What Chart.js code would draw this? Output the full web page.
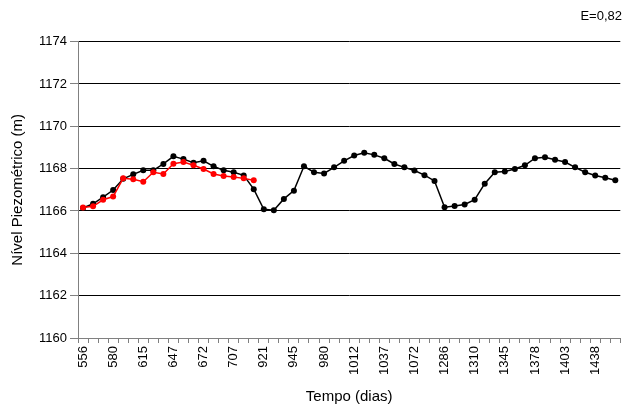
<!DOCTYPE html>
<html>
<head>
<meta charset="utf-8">
<script src="https://cdn.jsdelivr.net/npm/chart.js@4/dist/chart.umd.min.js"></script>
<style>
  html, body { margin: 0; padding: 0; background: #fff; }
  #wrap { width: 634px; height: 412px; position: relative; }
</style>
</head>
<body>
<div id="wrap"><canvas id="c"></canvas></div>
<script>
// Time of each reading (days); only every third label is printed on the axis
const days = [556, 563, 572, 580, 592, 603, 615, 626, 636, 647, 655, 663, 672, 684, 695, 707, 714, 726,
  921, 929, 937, 945, 957, 968, 980, 991, 1001, 1012, 1020, 1028, 1037, 1049, 1060, 1072, 1083, 1095,
  1286, 1294, 1302, 1310, 1322, 1333, 1345, 1356, 1367, 1378, 1386, 1394, 1403, 1415, 1426, 1438, 1449, 1461];

// Observed piezometric level (m)
const observed = [1166.14, 1166.34, 1166.65, 1166.99, 1167.52, 1167.73, 1167.92, 1167.92, 1168.22, 1168.58,
  1168.45, 1168.28, 1168.37, 1168.11, 1167.92, 1167.83, 1167.68, 1167.03, 1166.08, 1166.03,
  1166.57, 1166.96, 1168.11, 1167.83, 1167.77, 1168.06, 1168.37, 1168.62, 1168.75, 1168.65,
  1168.49, 1168.22, 1168.06, 1167.91, 1167.69, 1167.42, 1166.18, 1166.23, 1166.31, 1166.53,
  1167.29, 1167.83, 1167.86, 1167.98, 1168.16, 1168.49, 1168.54, 1168.42, 1168.31, 1168.06,
  1167.83, 1167.68, 1167.57, 1167.45];

// Simulated piezometric level (m), calibration period only
const simulated = [1166.16, 1166.22, 1166.53, 1166.68, 1167.54, 1167.50, 1167.38, 1167.83, 1167.75, 1168.23,
  1168.31, 1168.16, 1167.98, 1167.75, 1167.65, 1167.60, 1167.54, 1167.45];

// Y axis range and step
const yMin = 1160, yMax = 1174, yStep = 2;
const efficiency = 'E=0,82';

const FONT = 'Liberation Sans, Arial, Helvetica, sans-serif';
Chart.defaults.font.family = FONT;
Chart.defaults.font.size = 13;
Chart.defaults.color = '#000';

new Chart(document.getElementById('c'), {
  type: 'line',
  data: {
    labels: days,
    datasets: [
      {
        label: 'Simulado',
        data: simulated,
        borderColor: '#ff0000',
        backgroundColor: '#ff0000',
        borderWidth: 1.5,
        pointRadius: 3,
        pointHoverRadius: 3,
        pointBorderWidth: 0,
        tension: 0
      },
      {
        label: 'Observado',
        data: observed,
        borderColor: '#000',
        backgroundColor: '#000',
        borderWidth: 1.5,
        pointRadius: 3,
        pointHoverRadius: 3,
        pointBorderWidth: 0,
        tension: 0
      }
    ]
  },
  options: {
    responsive: true,
    maintainAspectRatio: false,
    animation: false,
    layout: { padding: { left: 0, right: 12, top: 0, bottom: 0 } },
    plugins: {
      legend: { display: false },
      tooltip: { enabled: false },
      title: {
        display: true,
        text: efficiency,
        align: 'end',
        font: { size: 13, weight: 'normal' },
        color: '#000',
        padding: { top: 9, bottom: 17 }
      }
    },
    scales: {
      x: {
        type: 'category',
        offset: true,
        grid: {
          display: true,
          drawOnChartArea: false,
          drawTicks: true,
          tickLength: 5,
          tickColor: '#808080',
          offset: true
        },
        border: { display: true, color: '#808080', width: 1 },
        ticks: {
          autoSkip: false,
          minRotation: 90,
          maxRotation: 90,
          padding: 3,
          font: { size: 13 },
          callback: function (value, index) {
            return index % 3 === 0 ? String(this.getLabelForValue(value)) : '';
          }
        },
        title: {
          display: true,
          text: 'Tempo (dias)',
          font: { size: 15 },
          padding: { top: 0, bottom: 6 }
        },
        afterFit: function (scale) { scale.height = 74; }
      },
      y: {
        min: yMin,
        max: yMax,
        grid: {
          color: '#000',
          lineWidth: 1,
          drawTicks: true,
          tickLength: 8,
          tickColor: '#808080'
        },
        border: { display: true, color: '#808080', width: 1 },
        ticks: {
          stepSize: yStep,
          padding: 3,
          font: { size: 13 },
          callback: function (value) { return String(value); }
        },
        title: {
          display: true,
          text: 'Nível Piezométrico (m)',
          font: { size: 15 },
          padding: { top: 9, bottom: 0 }
        },
        afterFit: function (scale) { scale.width = 78; }
      }
    }
  }
});
</script>
</body>
</html>
